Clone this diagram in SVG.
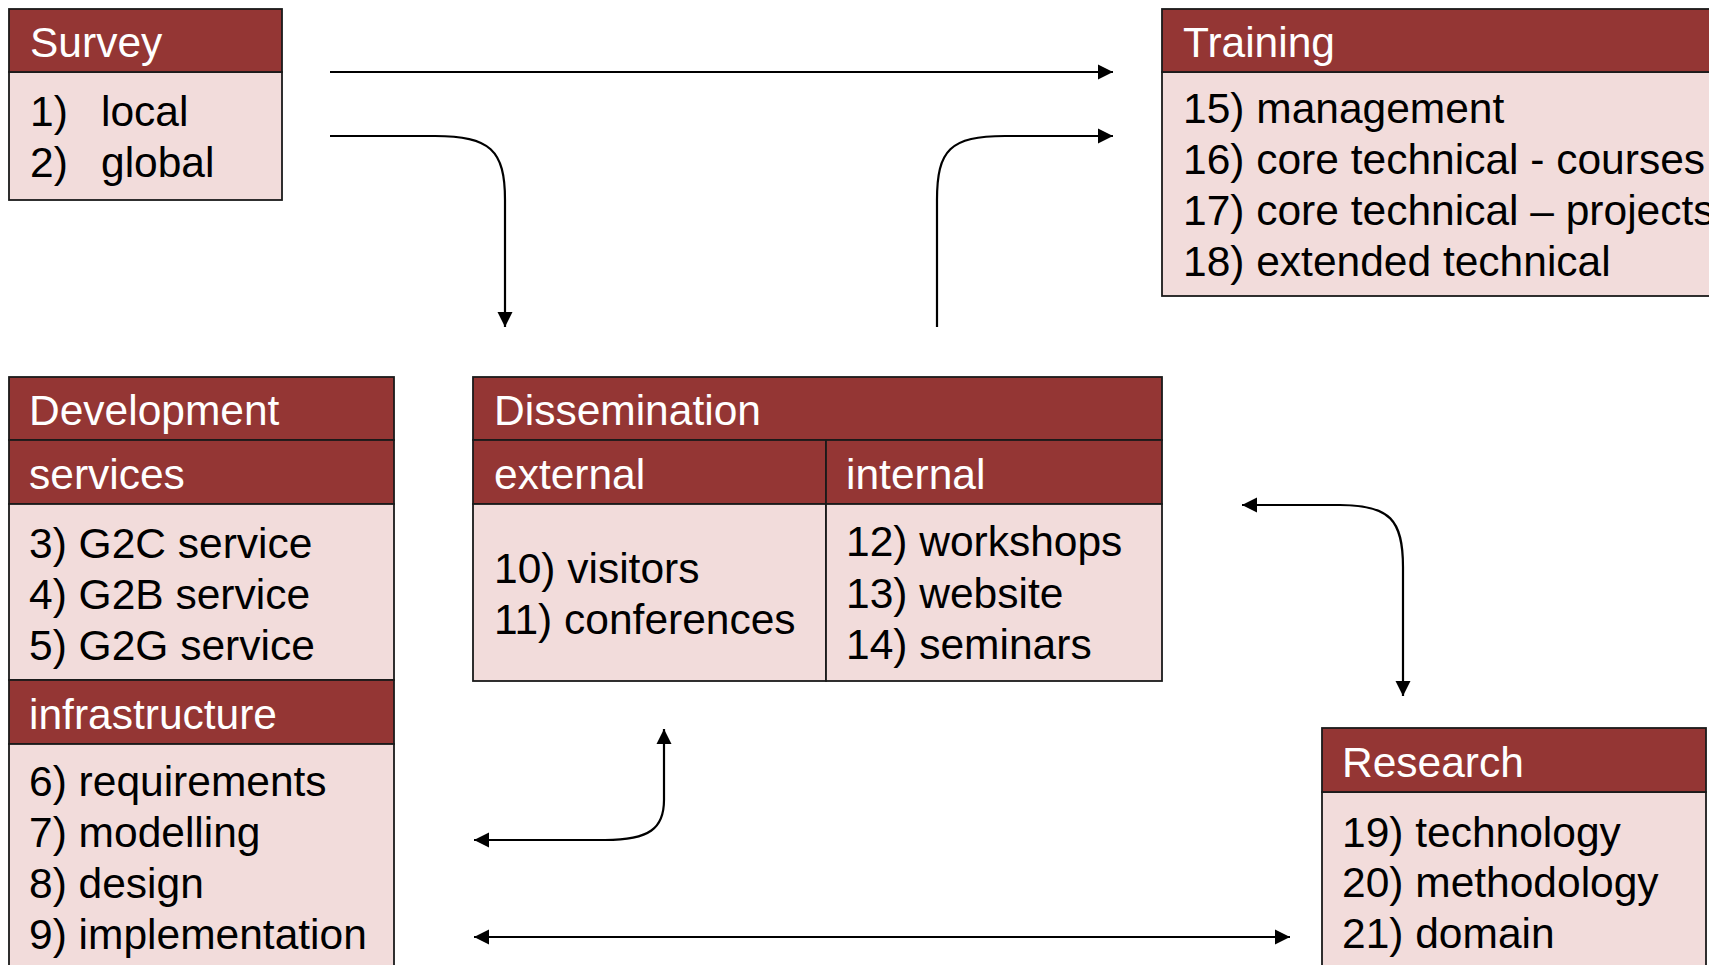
<svg xmlns="http://www.w3.org/2000/svg" width="1709" height="965" viewBox="0 0 1709 965">
<style>
.hd{fill:#943634;stroke:#1a1a1a;stroke-width:1.8}
.bd{fill:#F2DCDB;stroke:#1a1a1a;stroke-width:1.8}
.ht{fill:#ffffff;font-family:"Liberation Sans",Arial,sans-serif;font-size:42.5px}
.bt{fill:#000000;font-family:"Liberation Sans",Arial,sans-serif;font-size:42.5px}
.cn{fill:none;stroke:#000;stroke-width:2.2}
</style>
<defs>
<marker id="ah" markerUnits="userSpaceOnUse" markerWidth="16" markerHeight="16" viewBox="0 0 16 16" refX="15" refY="8" orient="auto-start-reverse">
<path d="M0,0.5 L15,8 L0,15.5 z" fill="#000"/>
</marker>
</defs>
<rect width="1709" height="965" fill="#ffffff"/>

<g id="survey">
<rect class="bd" x="9" y="72" width="273" height="128"/>
<rect class="hd" x="9" y="9" width="273" height="63"/>
<text class="ht" x="30" y="57">Survey</text>
<text class="bt" x="30" y="126">1)<tspan x="101">local</tspan></text>
<text class="bt" x="30" y="177">2)<tspan x="101">global</tspan></text>
</g>

<g id="training">
<rect class="bd" x="1162" y="72" width="560" height="224"/>
<rect class="hd" x="1162" y="9" width="560" height="63"/>
<text class="ht" x="1183" y="57">Training</text>
<text class="bt" x="1183" y="123">15) management</text>
<text class="bt" x="1183" y="174">16) core technical - courses</text>
<text class="bt" x="1183" y="225">17) core technical – projects</text>
<text class="bt" x="1183" y="276">18) extended technical</text>
</g>

<g id="development">
<rect class="hd" x="9" y="377" width="385" height="63"/>
<rect class="hd" x="9" y="440" width="385" height="64"/>
<rect class="bd" x="9" y="504" width="385" height="176"/>
<rect class="hd" x="9" y="680" width="385" height="64"/>
<rect class="bd" x="9" y="744" width="385" height="235"/>
<text class="ht" x="29" y="425">Development</text>
<text class="ht" x="29" y="489">services</text>
<text class="bt" x="29" y="558">3) G2C service</text>
<text class="bt" x="29" y="609">4) G2B service</text>
<text class="bt" x="29" y="660">5) G2G service</text>
<text class="ht" x="29" y="729">infrastructure</text>
<text class="bt" x="29" y="796">6) requirements</text>
<text class="bt" x="29" y="847">7) modelling</text>
<text class="bt" x="29" y="898">8) design</text>
<text class="bt" x="29" y="949">9) implementation</text>
</g>

<g id="dissemination">
<rect class="hd" x="473" y="377" width="689" height="63"/>
<rect class="hd" x="473" y="440" width="353" height="64"/>
<rect class="hd" x="826" y="440" width="336" height="64"/>
<rect class="bd" x="473" y="504" width="353" height="177"/>
<rect class="bd" x="826" y="504" width="336" height="177"/>
<text class="ht" x="494" y="425">Dissemination</text>
<text class="ht" x="494" y="489">external</text>
<text class="ht" x="846" y="489">internal</text>
<text class="bt" x="494" y="583">10) visitors</text>
<text class="bt" x="494" y="634">11) conferences</text>
<text class="bt" x="846" y="556">12) workshops</text>
<text class="bt" x="846" y="608">13) website</text>
<text class="bt" x="846" y="659">14) seminars</text>
</g>

<g id="research">
<rect class="bd" x="1322" y="792" width="384" height="190"/>
<rect class="hd" x="1322" y="728" width="384" height="64"/>
<text class="ht" x="1342" y="777">Research</text>
<text class="bt" x="1342" y="847">19) technology</text>
<text class="bt" x="1342" y="897">20) methodology</text>
<text class="bt" x="1342" y="948">21) domain</text>
</g>

<g id="connectors">
<path class="cn" d="M330,72 H1113" marker-end="url(#ah)"/>
<path class="cn" d="M330,136 H435 C490,136 505,150 505,200 V327" marker-end="url(#ah)"/>
<path class="cn" d="M937,327 V200 C937,150 950,136 1005,136 H1113" marker-end="url(#ah)"/>
<path class="cn" d="M1242,505 H1340 C1390,505 1403,520 1403,567 V696" marker-start="url(#ah)" marker-end="url(#ah)"/>
<path class="cn" d="M474,840 H605 C650,840 664,828 664,800 V729" marker-start="url(#ah)" marker-end="url(#ah)"/>
<path class="cn" d="M474,937 H1290" marker-start="url(#ah)" marker-end="url(#ah)"/>
</g>
</svg>
